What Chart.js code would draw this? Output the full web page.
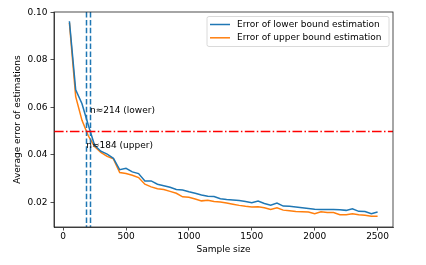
<!DOCTYPE html>
<html>
<head>
<meta charset="utf-8">
<script src="https://cdn.jsdelivr.net/npm/chart.js@4/dist/chart.umd.min.js"></script>
<style>
  html, body { margin: 0; padding: 0; background: #fff; }
  #wrap { width: 426px; height: 265px; }
</style>
</head>
<body>
<div id="wrap"><canvas id="grafico" width="426" height="265"></canvas></div>
<script>
const tamanhos = [50,100,150,200,250,300,350,400,450,500,550,600,650,700,750,800,850,900,950,1000,
  1050,1100,1150,1200,1250,1300,1350,1400,1450,1500,1550,1600,1650,1700,1750,1800,1850,1900,1950,2000,
  2050,2100,2150,2200,2250,2300,2350,2400,2450,2500]

const erro_inferior = [0.0962,0.0673,0.0615,0.0525,0.0440,0.0415,0.0403,0.0385,0.0337,0.0343,
  0.0328,0.0321,0.0290,0.0290,0.0276,0.0270,0.0263,0.0254,0.0252,0.0244,
  0.0238,0.0231,0.0225,0.0224,0.0215,0.0212,0.0210,0.0208,0.0203,0.0198,
  0.0205,0.0195,0.0188,0.0197,0.0184,0.0183,0.0180,0.0177,0.0174,0.0171,
  0.0170,0.0170,0.0170,0.0169,0.0166,0.0173,0.0162,0.0161,0.0152,0.0159]

const erro_superior = [0.0955,0.0645,0.0545,0.0480,0.0435,0.0410,0.0393,0.0383,0.0325,0.0321,
  0.0314,0.0304,0.0276,0.0265,0.0257,0.0254,0.0246,0.0238,0.0223,0.0221,
  0.0214,0.0206,0.0209,0.0203,0.0201,0.0197,0.0192,0.0187,0.0183,0.0180,
  0.0181,0.0177,0.0170,0.0177,0.0167,0.0164,0.0161,0.0160,0.0159,0.0152,
  0.0160,0.0157,0.0157,0.0148,0.0148,0.0152,0.0148,0.0145,0.0141,0.0141]

const ticks_x = [0,500,1000,1500,2000,2500]
const ticks_y = [0.02,0.04,0.06,0.08,0.10]
const limiar = 0.05
const cortes = [214,184]
const textos_cortes = ['n\u2248214 (lower)','n\u2248184 (upper)']
const y_textos = [0.0585,0.0438]
const rotulos = ['Error of lower bound estimation','Error of upper bound estimation']

const azul = '#1f77b4'
const laranja = '#ff7f0e'
const fonte = 'DejaVu Sans'
const tam_fonte = 9

const pontos = (valores) => tamanhos.map((t, i) => ({x: t, y: valores[i]}))

const extras = {
  id: 'extras',
  afterDatasetsDraw(chart) {
    const ctx = chart.ctx
    const area = chart.chartArea
    const sx = chart.scales.x
    const sy = chart.scales.y
    ctx.save()
    ctx.beginPath()
    ctx.rect(area.left, area.top, area.right - area.left, area.bottom - area.top)
    ctx.clip()
    // linhas verticais tracejadas
    ctx.strokeStyle = azul
    ctx.lineWidth = 1.5
    ctx.setLineDash([5.5, 2.4])
    for (const c of cortes) {
      const px = Math.round(sx.getPixelForValue(c)) + 0.5
      ctx.beginPath()
      ctx.moveTo(px, area.top)
      ctx.lineTo(px, area.bottom)
      ctx.stroke()
    }
    // limiar
    ctx.strokeStyle = 'red'
    ctx.setLineDash([9.6, 2.4, 1.5, 2.4])
    const py = Math.round(sy.getPixelForValue(limiar)) + 0.5
    ctx.beginPath()
    ctx.moveTo(area.left, py)
    ctx.lineTo(area.right, py)
    ctx.stroke()
    ctx.restore()

    // textos
    ctx.save()
    ctx.fillStyle = '#000'
    ctx.font = tam_fonte + 'px "' + fonte + '"'
    ctx.textBaseline = 'middle'
    ctx.textAlign = 'left'
    for (let i = 0; i < cortes.length; i++) {
      ctx.fillText(textos_cortes[i], sx.getPixelForValue(cortes[i]), sy.getPixelForValue(y_textos[i]))
    }
    ctx.restore()

    // moldura
    ctx.save()
    ctx.strokeStyle = '#222'
    ctx.lineWidth = 0.8
    ctx.strokeRect(area.left, area.top, area.right - area.left, area.bottom - area.top)
    ctx.restore()

    // legenda
    ctx.save()
    const lx = area.right - 186, ly = area.top + 4.5, lw = 182, lh = 30
    ctx.fillStyle = 'rgba(255,255,255,0.8)'
    ctx.strokeStyle = '#d0d0d0'
    ctx.lineWidth = 0.8
    ctx.beginPath()
    ctx.roundRect(lx, ly, lw, lh, 2)
    ctx.fill()
    ctx.stroke()
    ctx.font = tam_fonte + 'px "' + fonte + '"'
    ctx.textBaseline = 'middle'
    ctx.fillStyle = '#000'
    chart.data.datasets.forEach((ds, i) => {
      const yy = ly + 8 + i * 13.3
      ctx.strokeStyle = ds.borderColor
      ctx.lineWidth = 1.5
      ctx.beginPath()
      ctx.moveTo(lx + 3, yy)
      ctx.lineTo(lx + 23, yy)
      ctx.stroke()
      ctx.fillText(ds.label, lx + 30, yy)
    })
    ctx.restore()
  }
}

const data = {
  datasets: [
    {label: rotulos[0], data: pontos(erro_inferior), borderColor: azul, borderWidth: 1.5, pointRadius: 0, tension: 0},
    {label: rotulos[1], data: pontos(erro_superior), borderColor: laranja, borderWidth: 1.5, pointRadius: 0, tension: 0}
  ]
}

const config = {
  type: 'line',
  data: data,
  options: {
    responsive: false,
    animation: false,
    layout: {padding: {top: 12, right: 33, left: 0, bottom: 0}},
    plugins: {legend: {display: false}, tooltip: {enabled: false}},
    scales: {
      x: {
        type: 'linear',
        min: -72.5,
        max: 2622.5,
        afterBuildTicks: (s) => { s.ticks = ticks_x.map(v => ({value: v})) },
        afterFit: (s) => { s.height = 38 },
        grid: {drawOnChartArea: false, drawTicks: true, tickLength: 3.5, color: '#222', lineWidth: 0.8},
        border: {display: true, color: '#222', width: 0.8},
        ticks: {color: '#000', font: {family: fonte, size: tam_fonte}, padding: 1, maxRotation: 0, callback: (v) => String(v)},
        title: {display: true, text: 'Sample size', color: '#000', font: {family: fonte, size: tam_fonte}, padding: {top: 2, bottom: 9.6}}
      },
      y: {
        min: 0.0096,
        max: 0.1001,
        afterBuildTicks: (s) => { s.ticks = ticks_y.map(v => ({value: v})) },
        afterFit: (s) => { s.width = 54 },
        grid: {drawOnChartArea: false, drawTicks: true, tickLength: 3.5, color: '#222', lineWidth: 0.8},
        border: {display: true, color: '#222', width: 0.8},
        ticks: {color: '#000', font: {family: fonte, size: tam_fonte}, padding: 3, callback: (v) => v.toFixed(2)},
        title: {display: true, text: 'Average error of estimations', color: '#000', font: {family: fonte, size: tam_fonte}, padding: {top: 12.6, bottom: 2}}
      }
    }
  },
  plugins: [extras]
}

var myChart = new Chart(document.getElementById('grafico'), config)
</script>
</body>
</html>
